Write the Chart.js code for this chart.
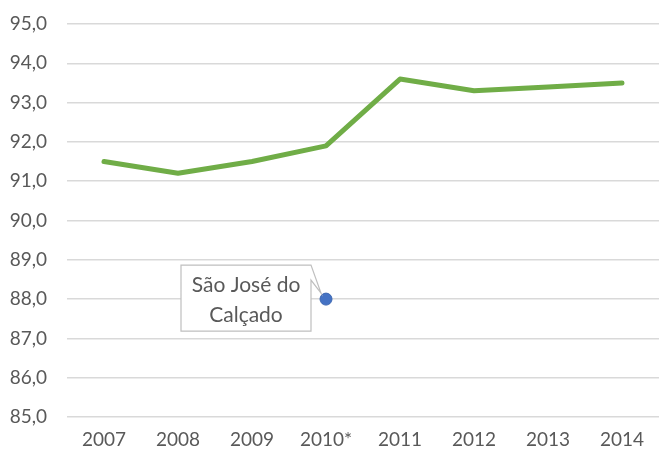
<!DOCTYPE html>
<html>
<head>
<meta charset="utf-8">
<script src="https://cdn.jsdelivr.net/npm/chart.js@4"></script>
<style>
  body { margin: 0; background: #fff; }
  #wrap { width: 659px; height: 453px; }
</style>
</head>
<body>
<div id="wrap"><canvas id="grafico"></canvas></div>
<script>
var anos = ['2007', '2008', '2009', '2010*', '2011', '2012', '2013', '2014'];
var taxa = [91.5, 91.2, 91.5, 91.9, 93.6, 93.3, 93.4, 93.5];
var destaque = [null, null, null, 88.0, null, null, null, null];
var rotuloDestaque = ['São José do', 'Calçado'];

var corTexto = '#595959';

// caixa de texto com seta apontando para o ponto azul
var caixaRotulo = {
  id: 'caixaRotulo',
  afterDatasetsDraw: function(chart) {
    var meta = chart.getDatasetMeta(1);
    var idx = destaque.findIndex(function(v){ return v !== null; });
    var p = meta.data[idx];
    if (!p) return;
    var ctx = chart.ctx;
    var x0 = p.x - 145, x1 = p.x - 15, y0 = p.y - 34, y1 = p.y + 32;
    ctx.save();
    ctx.beginPath();
    ctx.moveTo(x0, y0);
    ctx.lineTo(x1, y0);
    ctx.lineTo(p.x - 5, p.y - 6);
    ctx.lineTo(x1, y0 + 15);
    ctx.lineTo(x1, y1);
    ctx.lineTo(x0, y1);
    ctx.closePath();
    ctx.fillStyle = '#fff';
    ctx.fill();
    ctx.strokeStyle = '#bfbfbf';
    ctx.lineWidth = 1.2;
    ctx.stroke();
    ctx.fillStyle = corTexto;
    ctx.font = '21px Lato';
    ctx.textAlign = 'center';
    ctx.textBaseline = 'middle';
    var cx = (x0 + x1) / 2;
    ctx.fillText(rotuloDestaque[0], cx, p.y - 14);
    ctx.fillText(rotuloDestaque[1], cx, p.y + 16);
    ctx.restore();
  }
};

function zeraPadding(s) {
  s.paddingLeft = 0; s.paddingRight = 0; s.paddingTop = 0; s.paddingBottom = 0;
}

var ctx = document.getElementById('grafico').getContext('2d');
var chart = new Chart(ctx, {
  type: 'line',
  data: {
    labels: anos,
    datasets: [{
      data: taxa,
      borderColor: '#70ad47',
      borderWidth: 5,
      borderCapStyle: 'round',
      borderJoinStyle: 'round',
      pointRadius: 0,
      tension: 0
    }, {
      data: destaque,
      showLine: false,
      pointRadius: 6,
      pointBackgroundColor: '#4472c4',
      pointBorderColor: '#3d67b1',
      pointBorderWidth: 1
    }]
  },
  options: {
    responsive: true,
    maintainAspectRatio: false,
    animation: false,
    layout: { autoPadding: false, padding: { top: 24, right: 0, left: 0, bottom: 0 } },
    plugins: { legend: { display: false }, tooltip: { enabled: false } },
    scales: {
      x: {
        offset: true,
        afterFit: function(s) { s.height = 36; zeraPadding(s); },
        grid: { display: false, drawTicks: false },
        border: { display: false },
        ticks: { color: corTexto, font: { family: 'Lato', size: 19 }, padding: 11, maxRotation: 0 }
      },
      y: {
        min: 85, max: 95,
        afterFit: function(s) { s.width = 67; zeraPadding(s); },
        grid: { color: '#d9d9d9', lineWidth: 1.5, drawTicks: false },
        border: { display: false },
        ticks: {
          stepSize: 1,
          color: corTexto,
          font: { family: 'Lato', size: 19 },
          padding: 20,
          callback: function(v) { return v.toFixed(1).replace('.', ','); }
        }
      }
    }
  },
  plugins: [caixaRotulo]
});
</script>
</body>
</html>
